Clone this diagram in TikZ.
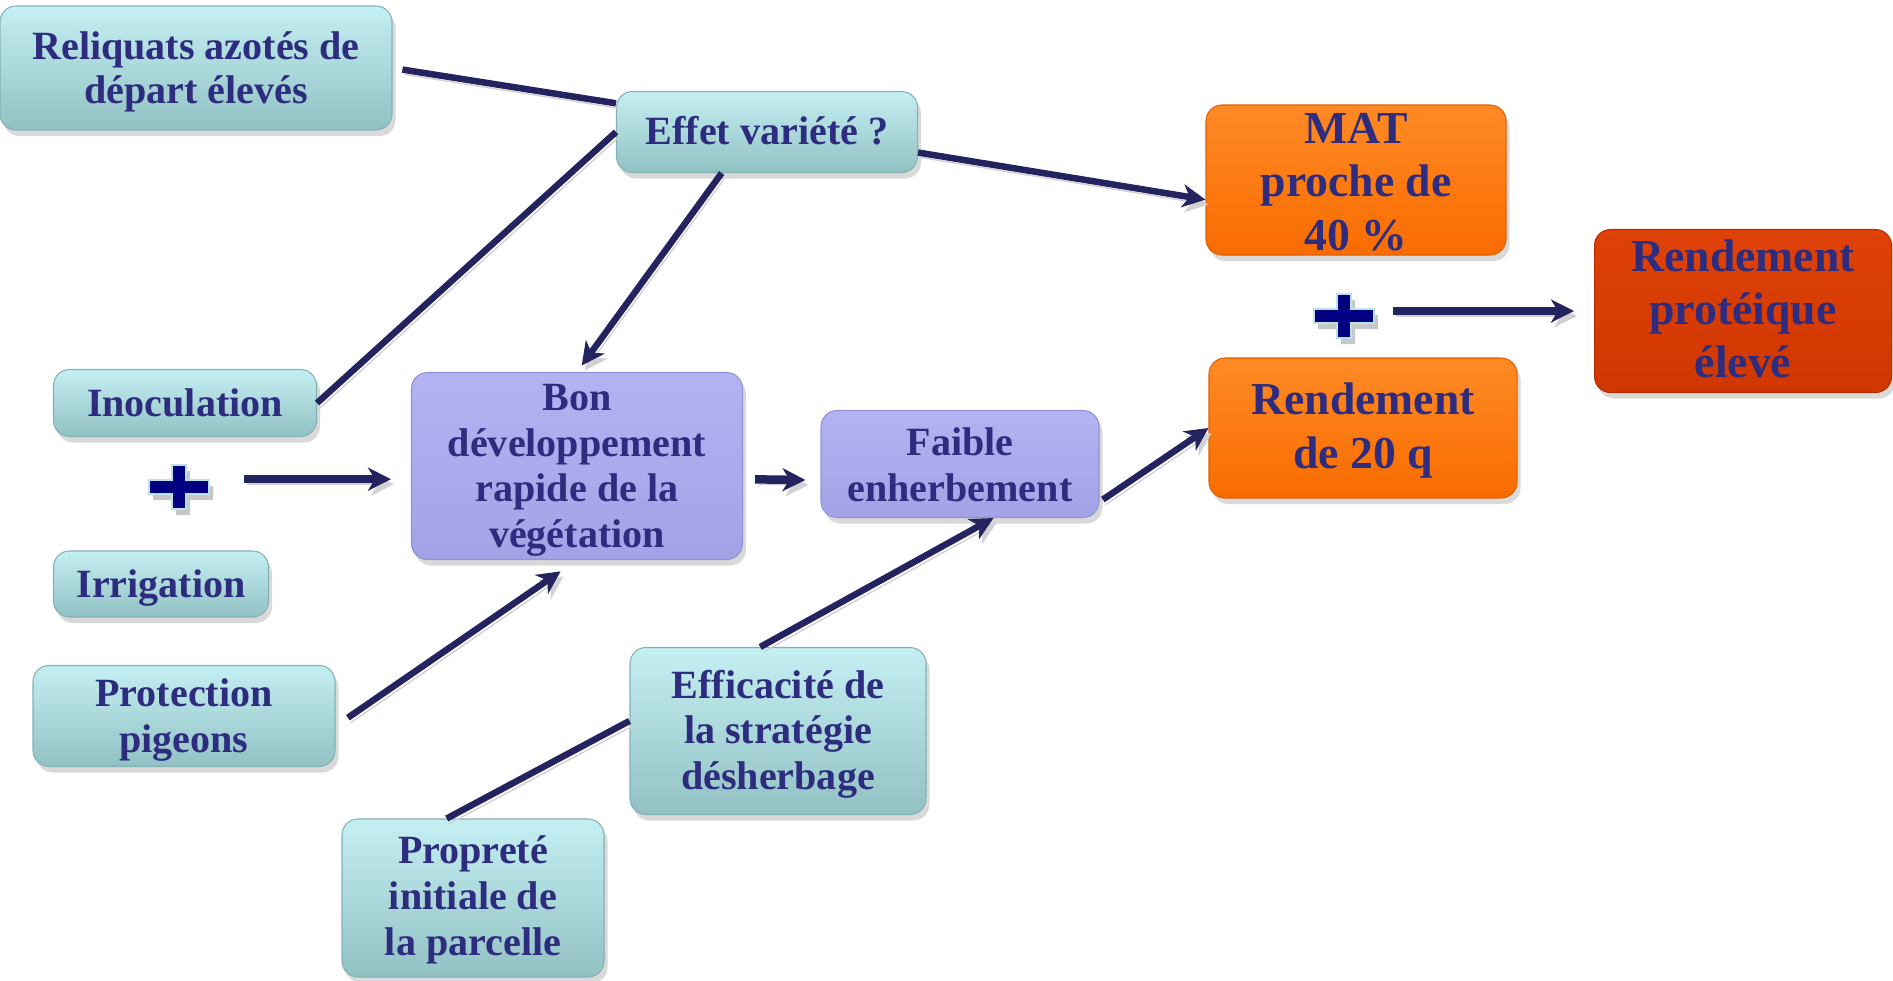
\documentclass[tikz,border=0pt]{standalone}
\usepackage{fontspec}
\setmainfont{Liberation Serif}
\usetikzlibrary{shadows,calc,arrows.meta}
\definecolor{txt}{HTML}{2D2C7E}
\definecolor{ln}{HTML}{24235F}
\definecolor{tealT}{HTML}{C4EFF3}
\definecolor{tealB}{HTML}{92C1C3}
\definecolor{tealD}{HTML}{84B2B4}
\definecolor{purT}{HTML}{B3B3F3}
\definecolor{purB}{HTML}{A2A2E6}
\definecolor{purD}{HTML}{9292D6}
\definecolor{orT}{HTML}{FF8A26}
\definecolor{orB}{HTML}{F86C00}
\definecolor{orD}{HTML}{E06000}
\definecolor{rdT}{HTML}{DE4208}
\definecolor{rdB}{HTML}{D03600}
\definecolor{rdD}{HTML}{B82E00}
\definecolor{plusc}{HTML}{000080}
\definecolor{plusedge}{HTML}{B6E4EA}
\tikzset{
  box/.style={rectangle, rounded corners=1.6mm, align=center, text=txt,
    font=\bfseries\fontsize{11.4pt}{13pt}\selectfont, inner xsep=0.8mm, inner ysep=0pt, line width=0.3pt,
    drop shadow={shadow xshift=0.35mm, shadow yshift=-0.6mm, opacity=0.3}},
  tb/.style 2 args={text height=#1, text depth=#2},
  big/.style={font=\bfseries\fontsize{13pt}{15.1pt}\selectfont},
  tealbox/.style={box, top color=tealT, bottom color=tealB, draw=tealD},
  purbox/.style={box, top color=purT, bottom color=purB, draw=purD},
  orbox/.style={box, big, top color=orT, bottom color=orB, draw=orD},
  rdbox/.style={box, big, top color=rdT, bottom color=rdB, draw=rdD},
  conn/.style={draw=ln, line width=0.65mm,
    preaction={draw=black!18, transform canvas={shift={(0.3mm,-0.5mm)}}}},
  arr/.style={conn, -{Stealth[length=2.3mm, width=2.3mm, inset=0.7mm]}},
  thick arr/.style={arr, line width=0.85mm},
  plussign/.pic={
    \fill[black!22, shift={(0.4mm,-0.6mm)}]
      (-3mm,-0.7mm) -- (-0.7mm,-0.7mm) -- (-0.7mm,-2.2mm) -- (0.7mm,-2.2mm) -- (0.7mm,-0.7mm) -- (3mm,-0.7mm)
      -- (3mm,0.7mm) -- (0.7mm,0.7mm) -- (0.7mm,2.2mm) -- (-0.7mm,2.2mm) -- (-0.7mm,0.7mm) -- (-3mm,0.7mm) -- cycle;
    \filldraw[fill=plusc, draw=plusedge, line width=0.22mm]
      (-3mm,-0.7mm) -- (-0.7mm,-0.7mm) -- (-0.7mm,-2.2mm) -- (0.7mm,-2.2mm) -- (0.7mm,-0.7mm) -- (3mm,-0.7mm)
      -- (3mm,0.7mm) -- (0.7mm,0.7mm) -- (0.7mm,2.2mm) -- (-0.7mm,2.2mm) -- (-0.7mm,0.7mm) -- (-3mm,0.7mm) -- cycle;
  }
}
\begin{document}
\begin{tikzpicture}[x=0.1mm, y=-0.1mm]
\useasboundingbox (0,0) rectangle (1893,980);

% nodes
\node[tealbox, tb={7.0mm}{0pt}, font=\bfseries\fontsize{11.4pt}{12.5pt}\selectfont, minimum width=39.2mm, minimum height=12.4mm] (rel) at (196,68) {Reliquats azotés de\\départ élevés};
\node[tealbox, tb={2.5mm}{0pt}, minimum width=30.1mm, minimum height=8.1mm] (eff) at (767,132) {Effet variété ?};
\node[orbox, tb={14.0mm}{0pt}, minimum width=30mm, minimum height=15mm] (mat) at (1356,180) {MAT\\proche de\\40 \%};
\node[rdbox, tb={13.3mm}{0pt}, minimum width=29.7mm, minimum height=16.3mm] (rpe) at (1743,311) {Rendement\\protéique\\élevé};
\node[orbox, tb={8.0mm}{0pt}, minimum width=30.8mm, minimum height=14mm] (r20) at (1363,428) {Rendement\\de 20 q};
\node[tealbox, tb={2.7mm}{0pt}, minimum width=26.3mm, minimum height=6.7mm] (ino) at (185,403) {Inoculation};
\node[tealbox, tb={2.6mm}{0pt}, minimum width=21.5mm, minimum height=6.6mm] (irr) at (161,584) {Irrigation};
\node[purbox, tb={16.3mm}{0pt}, minimum width=33.1mm, minimum height=18.7mm] (bon) at (577,466) {Bon\\développement\\rapide de la\\végétation};
\node[purbox, tb={7.5mm}{0pt}, minimum width=27.8mm, minimum height=10.7mm] (fai) at (960,464) {Faible\\enherbement};
\node[tealbox, tb={7.3mm}{0pt}, minimum width=30.2mm, minimum height=10.1mm] (pro) at (184,716) {Protection\\pigeons};
\node[tealbox, tb={11.7mm}{0pt}, minimum width=29.6mm, minimum height=16.7mm] (eff2) at (778,731) {Efficacité de\\la stratégie\\désherbage};
\node[tealbox, tb={11.4mm}{0pt}, minimum width=26.2mm, minimum height=15.8mm] (prop) at (473,898) {Propreté\\initiale de\\la parcelle};

% plus signs
\node[minimum width=6.2mm, minimum height=4.4mm, inner sep=0] (plusL) at (179,487) {};
\node[minimum width=6.2mm, minimum height=4.4mm, inner sep=0] (plusR) at (1344,316) {};
\pic at (plusL) {plussign};
\pic at (plusR) {plussign};

% helper coordinates
\coordinate (bonW) at ($(bon.north west)!0.57!(bon.south west)$);

% connectors
\draw[conn, shorten <=1mm] (rel.east) -- ($(eff.north west)!0.15!(eff.south west)$);
\draw[conn] (ino.east) -- ($(eff.north west)!0.5!(eff.south west)$);
\draw[arr, shorten >=0.8mm] ($(eff.south west)!0.35!(eff.south east)$) -- (bon.north);
\draw[arr] ($(eff.north east)!0.75!(eff.south east)$) -- ($(mat.north west)!0.63!(mat.south west)$);
\draw[thick arr, shorten <=1.2mm, shorten >=1.5mm] ($(bon.north east)!0.57!(bon.south east)$) -- ($(fai.north west)!0.65!(fai.south west)$);
\draw[thick arr, shorten <=3.3mm, shorten >=2mm] (plusL.east |- bonW) -- (bonW);
\draw[arr, shorten <=1.5mm, shorten >=2mm] ($(pro.north east)!0.6!(pro.south east)$) -- (bon.south);
\draw[arr] ($(eff2.north west)!0.44!(eff2.north east)$) -- ($(fai.south west)!0.62!(fai.south east)$);
\draw[conn] ($(prop.north west)!0.4!(prop.north east)$) -- ($(eff2.north west)!0.44!(eff2.south west)$);
\draw[arr, shorten <=0.4mm] ($(fai.north east)!0.85!(fai.south east)$) -- ($(r20.north west)!0.5!(r20.south west)$);
\draw[thick arr, shorten <=1.7mm, shorten >=2mm] (plusR.east |- rpe.west) -- (rpe.west);
\end{tikzpicture}
\end{document}
